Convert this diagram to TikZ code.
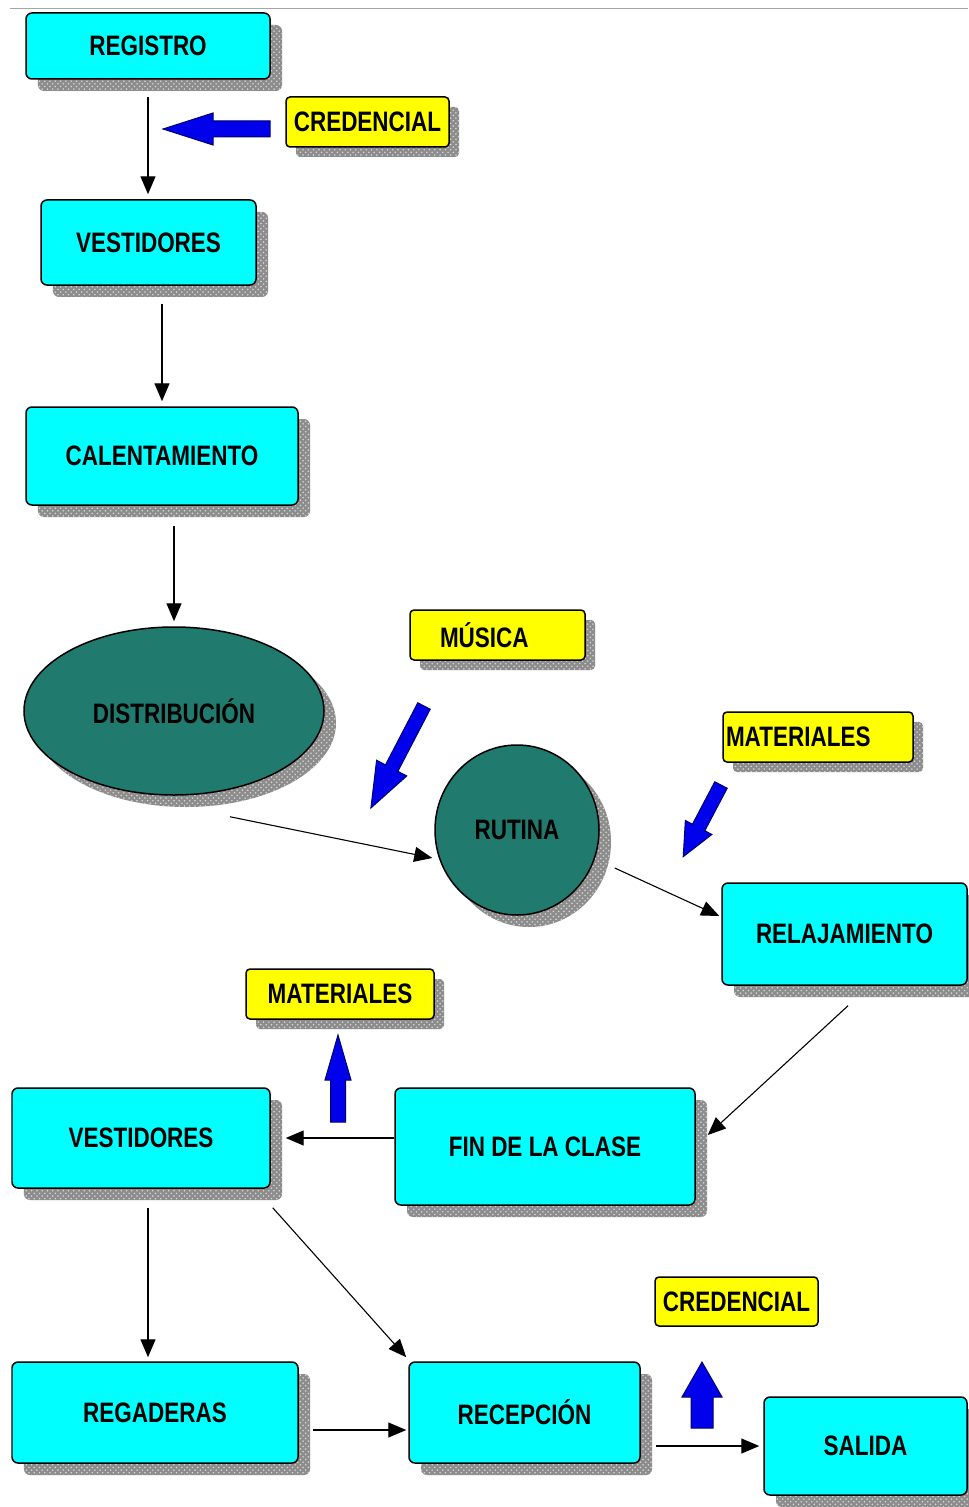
\documentclass[tikz,border=0pt]{standalone}
\usepackage{fontspec}
\usetikzlibrary{arrows.meta,shapes.geometric,patterns}
\newfontfamily\lab[FakeStretch=0.8]{Liberation Sans}

\definecolor{boxcyan}{RGB}{0,255,255}
\definecolor{boxteal}{RGB}{32,122,110}
\definecolor{boxyellow}{RGB}{255,255,0}
\definecolor{arrowblue}{RGB}{0,0,235}
\definecolor{arrowedge}{RGB}{0,0,110}
\definecolor{shgray}{RGB}{140,140,140}
\definecolor{shdot}{RGB}{215,215,215}

\tikzset{
  dshadow/.style={
    preaction={fill=shgray, transform canvas={xshift=#1, yshift=-#1}},
    preaction={pattern=crosshatch dots, pattern color=shdot,
               transform canvas={xshift=#1, yshift=-#1}}},
  sized/.style 2 args={minimum width=#1*0.02cm, minimum height=#2*0.02cm},
  basenode/.style={draw=black, line width=0.03cm, inner sep=0pt,
    font=\lab\bfseries\fontsize{16}{18}\selectfont},
  stage/.style={basenode, rectangle, rounded corners=0.12cm, fill=boxcyan, dshadow=0.24cm},
  oval/.style={basenode, ellipse, fill=boxteal, dshadow=0.24cm},
  tag/.style={basenode, rectangle, rounded corners=0.08cm, fill=boxyellow},
  tagshadow/.style={dshadow=0.2cm},
  conn/.style={line width=0.028cm, -{Triangle[length=0.36cm,width=0.3cm]}},
  fatstyle/.style={fill=arrowblue, draw=arrowedge, line width=0.02cm, line join=miter},
}

% block arrow: tail x, tail y, angle, length, shaft half width, head half width, head length
\newcommand\fatarrow[7]{%
  \begin{scope}[shift={(#1,#2)}, rotate=#3]
    \filldraw[fatstyle] (0,-#5) -- (#4-#7,-#5) -- (#4-#7,-#6) -- (#4,0)
      -- (#4-#7,#6) -- (#4-#7,#5) -- (0,#5) -- cycle;
  \end{scope}}

\begin{document}
\begin{tikzpicture}[x=0.02cm, y=0.02cm]
\useasboundingbox (0,0) rectangle (968,-1507);
\fill[white] (0,0) rectangle (968,-1507);

% rule across the top
\draw[gray!70, line width=0.02cm] (10,-9) -- (968,-9);

% stages
\node[stage, sized={244}{66}]  (reg)   at (148,-46)     {REGISTRO};
\node[stage, sized={215}{85}]  (ves1)  at (148.5,-242.5) {VESTIDORES};
\node[stage, sized={272}{98}]  (cal)   at (162,-456)    {CALENTAMIENTO};
\node[oval,  sized={300}{168}] (dist)  at (174,-711)    {DISTRIBUCIÓN};
\node[oval,  sized={164}{170}] (rut)   at (517,-830)    {RUTINA};
\node[stage, sized={245}{102}] (relaj) at (844.5,-934)  {RELAJAMIENTO};
\node[stage, sized={300}{117}] (fin)   at (545,-1146.5) {FIN DE LA CLASE};
\node[stage, sized={258}{100}] (ves2)  at (141,-1138)   {VESTIDORES};
\node[stage, sized={286}{101}] (regad) at (155,-1412.5) {REGADERAS};
\node[stage, sized={231}{101}] (recep) at (524.5,-1412.5) {RECEPCIÓN};
\node[stage, sized={203}{98}]  (sal)   at (865.5,-1446) {SALIDA};

% resource tags
\node[tag, tagshadow, sized={163}{50}] (cred1) at (367.5,-122) {CREDENCIAL};
\node[tag, tagshadow, sized={175}{50}, text width=115*0.02cm, inner xsep=30*0.02cm, align=left]
  (mus) at (497.5,-635) {MÚSICA};
\node[tag, tagshadow, sized={190}{50}, text width=184*0.02cm, inner xsep=3*0.02cm, align=left]
  (mat1) at (818,-737) {MATERIALES};
\node[tag, tagshadow, sized={188}{50}] (mat2) at (340,-994) {MATERIALES};
\node[tag, sized={163}{49}] (cred2) at (736.5,-1301.5) {CREDENCIAL};

% flow connectors
\draw[conn, shorten <=0.34cm, shorten >=0.1cm] (reg.south) -- (reg.south |- ves1.north);
\draw[conn, shorten <=0.36cm, shorten >=0.1cm] (cal.north |- ves1.south) -- (cal.north);
\draw[conn, shorten <=0.4cm, shorten >=0.1cm] (dist.north |- cal.south) -- (dist.north);
\draw[conn, line width=0.022cm] ([shift={(56,-21)}]dist.south) -- ([shift={(-2,-28)}]rut.west);
\draw[conn, line width=0.022cm] ([shift={(15,-38)}]rut.east) -- ([shift={(-2,18)}]relaj.west);
\draw[conn, line width=0.022cm] ([shift={(3.5,-20)}]relaj.south) -- ([shift={(12,11.5)}]fin.east);
\draw[conn, shorten >=0.3cm] (fin.west |- ves2.east) -- (ves2.east);
\draw[conn] ([shift={(7,-19)}]ves2.south) -- ([shift={(-7,4)}]regad.north);
\draw[conn, line width=0.022cm] ([shift={(2,-19)}]ves2.south east) -- ([shift={(-2,4)}]recep.north west);
\draw[conn] ([shift={(14,-17.5)}]regad.east) -- ([shift={(-2,-17.5)}]recep.west);
\draw[conn, shorten <=0.3cm, shorten >=0.08cm] (recep.east |- sal.west) -- (sal.west);

% block arrows
\fatarrow{270}{-129}{180}{107}{8}{16}{50}
\fatarrow{424}{-706}{242.5}{115}{7}{17}{45}
\fatarrow{721}{-785}{242.2}{81}{7}{15}{33}
\fatarrow{338}{-1122}{90}{87}{7.5}{13}{45}
\fatarrow{702}{-1428}{90}{66}{11}{20}{35}
\end{tikzpicture}
\end{document}
